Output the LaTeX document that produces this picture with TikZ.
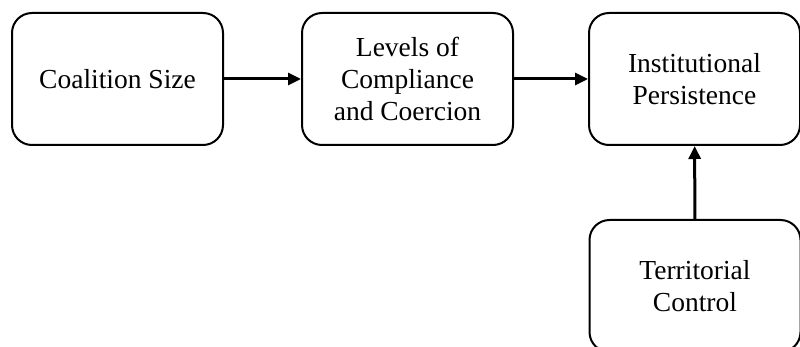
\documentclass[tikz,border=0pt]{standalone}
\usepackage{fontspec}
\setmainfont{Liberation Serif}
\usetikzlibrary{arrows.meta}
\begin{document}
\begin{tikzpicture}[x=1pt,y=-1pt,
  box/.style={draw, line width=2pt, rounded corners=20pt, minimum width=211pt, minimum height=132pt,
    align=center, font=\fontsize{27.5pt}{32pt}\selectfont, inner sep=0pt},
  conn/.style={line width=3pt, -{Triangle[length=13pt,width=12pt]}}]
\useasboundingbox (0,0) rectangle (800,347);
\node[box] (cs) at (117.5,79) {Coalition Size};
\node[box] (lc) at (407.5,79) {Levels of\\Compliance\\and Coercion};
\node[box] (ip) at (694.5,79) {Institutional\\Persistence};
\node[box] (tc) at (695,286) {Territorial\\Control};
\draw[conn] (cs) -- (lc);
\draw[conn] (lc) -- (ip);
\draw[conn] (tc) -- (ip);
\end{tikzpicture}
\end{document}
